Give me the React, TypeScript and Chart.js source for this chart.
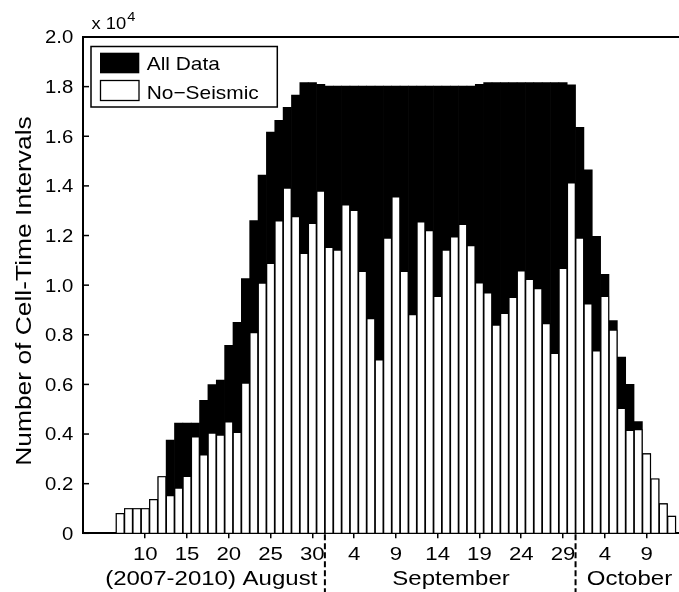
import { useEffect, useRef } from 'react';
import { Chart, registerables } from 'chart.js';

Chart.register(...registerables);

// Day index: August d -> d, September d -> 31 + d, October d -> 61 + d
const days = [
  7, 8, 9, 10, 11, 12, 13, 14, 15, 16, 17, 18, 19, 20, 21, 22, 23, 24, 25, 26,
  27, 28, 29, 30, 31, 32, 33, 34, 35, 36, 37, 38, 39, 40, 41, 42, 43, 44, 45, 46,
  47, 48, 49, 50, 51, 52, 53, 54, 55, 56, 57, 58, 59, 60, 61, 62, 63, 64, 65, 66,
  67, 68, 69, 70, 71, 72, 73,
];

const allData = [
  800, 1000, 1000, 1000, 1370, 2290,
  3760, 4440, 4440, 4440, 5360, 5990, 6170, 7570, 8500,
  10260, 12600, 14440, 16170, 16640, 17170, 17660, 18160, 18160, 18090,
  18020, 18020, 18020, 18020, 18020, 18020, 18020, 18020, 18020,
  18020, 18020, 18020, 18020, 18020, 18020, 18020, 18020, 18020,
  18090,
  18160, 18160, 18160, 18160, 18160, 18160, 18160, 18160, 18160, 18160,
  18070,
  16360, 14650, 11970, 10440, 8570, 7100, 6000, 4500, 3210, 2200, 1200, 690,
];

const noSeismic = [
  800, 1000, 1000, 1000, 1370, 2290,
  1530, 1830, 2300, 3900, 3170, 4050, 3970, 4500, 4080,
  6060, 8100, 10090, 10890, 12600, 13920, 12770, 11290, 12500, 13800,
  11530, 11420, 13240, 13020, 10560, 8660, 7000, 11900, 13570,
  10560, 8820, 12560, 12210, 9560, 11420, 11960, 12460, 11600,
  10100,
  9700, 8400, 8870, 9520, 10590, 10240, 9870, 8460, 7260, 10690,
  14130,
  11900, 9260, 7360, 9560, 8200, 5040, 4160, 4190, 3210, 2200, 1200, 690,
];

const xTickValues = [10, 15, 20, 25, 30, 35, 40, 45, 50, 55, 60, 65, 70];
const yTickValues = [0, 2000, 4000, 6000, 8000, 10000, 12000, 14000, 16000, 18000, 20000];
const monthLabels = ['(2007-2010) August', 'September', 'October'];
const monthCenters = [17.9, 46.6, 67.95];
const monthBreaks = [31.5, 61.5];
const legendLabels = ['All Data', 'No\u2212Seismic'];
const yTitle = 'Number of Cell-Time Intervals';

const FAMILY = '"Liberation Sans", Arial, Helvetica, sans-serif';

function dayLabel(v: number): string {
  if (v <= 31) return String(v);
  if (v <= 61) return String(v - 31);
  return String(v - 61);
}

function yLabel(v: number): string {
  return v === 0 ? '0' : (v / 10000).toFixed(1);
}

function wideText(
  ctx: CanvasRenderingContext2D,
  text: string,
  x: number,
  y: number,
  size: number,
  sx: number,
  align: 'left' | 'center' | 'right',
) {
  ctx.save();
  ctx.font = `${size}px ${FAMILY}`;
  ctx.textAlign = 'left';
  ctx.textBaseline = 'alphabetic';
  const w = ctx.measureText(text).width * sx;
  const x0 = align === 'center' ? x - w / 2 : align === 'right' ? x - w : x;
  ctx.translate(x0, y);
  ctx.scale(sx, 1);
  ctx.fillText(text, 0, 0);
  ctx.restore();
  return w;
}

const decor = {
  id: 'decor',
  afterDraw(chart: any) {
    const { ctx, chartArea } = chart;
    const xs = chart.scales.x;
    const ys = chart.scales.y;
    ctx.save();
    ctx.strokeStyle = '#000';
    ctx.fillStyle = '#000';

    // top frame line
    ctx.lineWidth = 2;
    ctx.beginPath();
    ctx.moveTo(chartArea.left - 1, chartArea.top);
    ctx.lineTo(chartArea.right, chartArea.top);
    ctx.stroke();

    // inward y ticks
    ctx.lineWidth = 1.5;
    for (const v of yTickValues) {
      const py = ys.getPixelForValue(v);
      ctx.beginPath();
      ctx.moveTo(chartArea.left, py);
      ctx.lineTo(chartArea.left + 6, py);
      ctx.stroke();
    }

    // tick labels
    for (const v of xTickValues) {
      wideText(ctx, dayLabel(v), xs.getPixelForValue(v), 560, 18.5, 1.2, 'center');
    }
    for (const v of yTickValues) {
      wideText(ctx, yLabel(v), 73.3, ys.getPixelForValue(v) + 6.4, 18, 1.13, 'right');
    }

    // month separators
    ctx.setLineDash([6, 3]);
    ctx.lineWidth = 2;
    for (const b of monthBreaks) {
      const px = xs.getPixelForValue(b);
      ctx.beginPath();
      ctx.moveTo(px, chartArea.bottom + 1);
      ctx.lineTo(px, chart.height);
      ctx.stroke();
    }
    ctx.setLineDash([]);

    // month labels
    monthLabels.forEach((t, i) => {
      wideText(ctx, t, xs.getPixelForValue(monthCenters[i]), 584.5, 20, 1.2, 'center');
    });

    // y title
    ctx.save();
    ctx.translate(30.7, 291);
    ctx.rotate(-Math.PI / 2);
    wideText(ctx, yTitle, 0, 0, 22, 1.2, 'center');
    ctx.restore();

    // exponent
    const w = wideText(ctx, 'x 10', 91.5, 29, 17, 1.08, 'left');
    wideText(ctx, '4', 91.5 + w + 1, 20.5, 13.5, 1.08, 'left');

    // legend
    ctx.lineWidth = 1.5;
    ctx.fillStyle = '#fff';
    ctx.fillRect(91, 46.5, 186.3, 60.5);
    ctx.strokeRect(91, 46.5, 186.3, 60.5);
    ctx.fillStyle = '#000';
    ctx.fillRect(100, 52.7, 39.3, 20.6);
    ctx.fillStyle = '#fff';
    ctx.fillRect(100.5, 80.5, 38.5, 20);
    ctx.lineWidth = 1.3;
    ctx.strokeRect(100.5, 80.5, 38.5, 20);
    ctx.fillStyle = '#000';
    wideText(ctx, legendLabels[0], 146.7, 70.3, 19, 1.1, 'left');
    wideText(ctx, legendLabels[1], 146.7, 98.5, 19, 1.1, 'left');

    ctx.restore();
  },
};

export default function App() {
  const ref = useRef<HTMLCanvasElement | null>(null);

  useEffect(() => {
    const canvas = ref.current;
    if (!canvas) return;
    const chart = new Chart(canvas, {
      type: 'bar',
      data: {
        datasets: [
          {
            label: legendLabels[0],
            data: days.map((d, i) => ({ x: d, y: allData[i] })),
            backgroundColor: '#000',
            borderWidth: 0,
            barPercentage: 1,
            categoryPercentage: 1,
            grouped: false,
            order: 2,
          } as any,
          {
            label: legendLabels[1],
            data: days.map((d, i) => ({ x: d, y: noSeismic[i] })),
            backgroundColor: '#fff',
            borderColor: '#000',
            borderWidth: 1.2,
            barPercentage: 1,
            categoryPercentage: 1,
            grouped: false,
            order: 1,
          } as any,
        ],
      },
      options: {
        responsive: false,
        animation: false,
        devicePixelRatio: 1,
        events: [],
        layout: { padding: { top: 37, left: 0, right: 0, bottom: 0 } },
        plugins: {
          legend: { display: false },
          tooltip: { enabled: false },
          title: { display: false },
        },
        scales: {
          x: {
            type: 'linear',
            min: 2.55,
            max: 73.88,
            offset: false,
            z: 1,
            afterFit(s: any) {
              s.height = 58.7;
            },
            afterBuildTicks(s: any) {
              s.ticks = xTickValues.map((v) => ({ value: v }));
            },
            ticks: {
              autoSkip: false,
              maxRotation: 0,
              minRotation: 0,
              padding: 4,
              color: 'rgba(0,0,0,0)',
              font: { family: FAMILY, size: 18.5 },
              callback: (v: any) => dayLabel(Number(v)),
            },
            grid: {
              offset: false,
              drawOnChartArea: false,
              drawTicks: true,
              tickLength: 5,
              color: '#000',
              lineWidth: 1.5,
            },
            border: { color: '#000', width: 2 },
          } as any,
          y: {
            min: 0,
            max: 20000,
            z: 1,
            afterFit(s: any) {
              s.width = 83;
            },
            afterBuildTicks(s: any) {
              s.ticks = yTickValues.map((v) => ({ value: v }));
            },
            ticks: {
              padding: 8,
              color: 'rgba(0,0,0,0)',
              font: { family: FAMILY, size: 18 },
              callback: (v: any) => yLabel(Number(v)),
            },
            grid: { drawOnChartArea: false, drawTicks: false },
            border: { color: '#000', width: 2 },
          } as any,
        },
      },
      plugins: [decor],
    });
    return () => chart.destroy();
  }, []);

  return (
    <div style={{ position: 'absolute', left: 0, top: 0, width: 679, height: 592, background: '#fff' }}>
      <canvas ref={ref} width={679} height={592} style={{ width: 679, height: 592, display: 'block' }} />
    </div>
  );
}
